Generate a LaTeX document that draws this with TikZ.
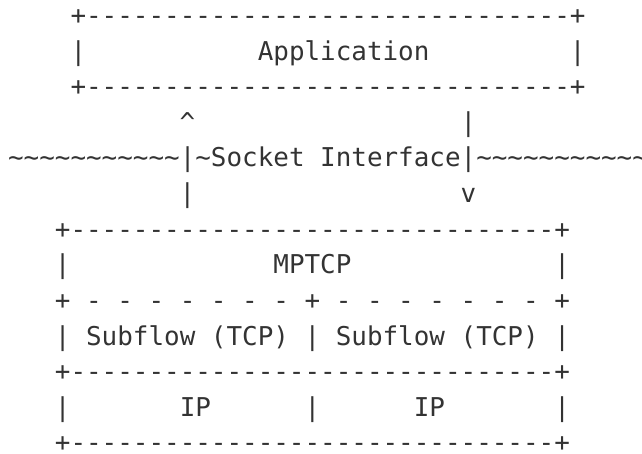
\documentclass[tikz,border=0pt]{standalone}
\usepackage{fontspec}
\setmonofont{DejaVu Sans Mono}
\usepackage{xcolor}
\definecolor{ink}{HTML}{333333}

\tikzset{asciirow/.style={font=\ttfamily\fontsize{12.96pt}{17.8pt}\selectfont,
  text=ink, anchor=base west, inner sep=0pt, outer sep=0pt}}

\begin{document}
\begin{tikzpicture}[x=7.8pt, y=-17.8pt]
\useasboundingbox (-0.52,-0.69) rectangle (40.63,12.035);
% application box
\node[asciirow] (apptop) at (4,0) {+-------------------------------+};
\node[asciirow] (app) at (4,1) {|~~~~~~~~~~~Application~~~~~~~~~|};
\node[asciirow] (appbot) at (4,2) {+-------------------------------+};
% socket interface
\node[asciirow] (up) at (11,3) {\textasciicircum};
\node[asciirow] (downtop) at (29,3) {|};
\node[asciirow] (socket) at (0,4) {\textasciitilde\textasciitilde\textasciitilde\textasciitilde\textasciitilde\textasciitilde\textasciitilde\textasciitilde\textasciitilde\textasciitilde\textasciitilde|\textasciitilde Socket~Interface|\textasciitilde\textasciitilde\textasciitilde\textasciitilde\textasciitilde\textasciitilde\textasciitilde\textasciitilde\textasciitilde\textasciitilde\textasciitilde};
\node[asciirow] (upbot) at (11,5) {|};
\node[asciirow] (down) at (29,5) {v};
% mptcp stack
\node[asciirow] (mptcptop) at (3,6) {+-------------------------------+};
\node[asciirow] (mptcp) at (3,7) {|~~~~~~~~~~~~~MPTCP~~~~~~~~~~~~~|};
\node[asciirow] (split) at (3,8) {+~-~-~-~-~-~-~-~+~-~-~-~-~-~-~-~+};
\node[asciirow] (subflow) at (3,9) {|~Subflow~(TCP)~|~Subflow~(TCP)~|};
\node[asciirow] (iptop) at (3,10) {+-------------------------------+};
\node[asciirow] (ip) at (3,11) {|~~~~~~~IP~~~~~~|~~~~~~IP~~~~~~~|};
\node[asciirow] (ipbot) at (3,12) {+-------------------------------+};
\end{tikzpicture}
\end{document}
